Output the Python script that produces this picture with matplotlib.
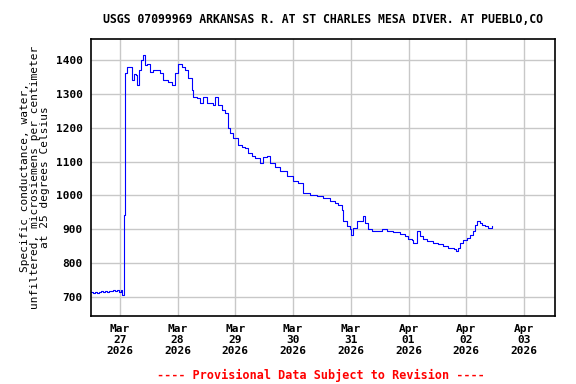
"""USGS specific conductance plot, Arkansas R. at St Charles Mesa diversion."""

import matplotlib
matplotlib.use("Agg")
import matplotlib.pyplot as plt
import numpy as np

# hours after 2026-03-27 00:00, and specific conductance (uS/cm)
hours = [
    -12.1, -11.2, -10.4, -9.6, -8.7, -7.9, -7.1, -6.2, -5.4, -4.6, -3.7, -2.9,
    -2.1, -1.2, -0.4, 0.4, 1.0, 1.5, 1.8, 2.1, 2.8, 4.2, 4.9, 5.8, 6.5, 7.2,
    8.0, 8.7, 9.7, 10.4, 11.1, 12.5, 13.9, 15.3, 16.6, 18.0, 20.1, 21.5, 22.9,
    24.3, 25.7, 27.0, 28.4, 29.8, 30.5, 31.9, 33.3, 34.7, 36.1, 37.4, 38.8,
    39.5, 40.9, 42.3, 43.7, 44.8, 45.8, 47.1, 49.2, 50.6, 52.0, 53.4, 54.8,
    56.2, 58.2, 59.6, 61.0, 62.4, 64.5, 66.6, 69.3, 72.1, 74.0, 76.3, 79.0,
    81.8, 84.6, 87.4, 89.4, 90.8, 92.2, 92.9, 94.3, 95.7, 96.0, 97.1, 98.5,
    99.8, 101.0, 101.9, 103.3, 104.7, 106.8, 108.9, 111.0, 113.7, 116.5,
    118.6, 119.9, 121.3, 122.0, 123.4, 124.8, 126.2, 127.6, 129.0, 130.3,
    132.4, 134.5, 136.6, 138.7, 139.7, 140.7, 141.4, 142.8, 144.2, 145.6,
    146.7, 147.7, 148.6, 149.8, 150.5, 151.8, 153.2, 154.6,
]
conductance = [
    713, 712, 715, 710, 713, 716, 714, 717, 715, 718, 716, 720,
    717, 721, 714, 719, 705, 704, 943, 1361, 1380, 1380, 1341, 1358, 1356, 1326,
    1370, 1400, 1415, 1385, 1390, 1365, 1370, 1370, 1361, 1341, 1336, 1326, 1361,
    1390, 1380, 1370, 1346, 1311, 1292, 1287, 1272, 1292, 1272, 1272, 1267,
    1292, 1267, 1253, 1243, 1198, 1184, 1169, 1149, 1144, 1139, 1125, 1115,
    1110, 1095, 1112, 1115, 1095, 1085, 1071, 1056, 1041, 1036, 1007, 1002,
    997, 992, 982, 977, 972, 958, 923, 908, 899, 884, 904, 923,
    923, 938, 918, 899, 894, 894, 899, 894, 891, 887,
    879, 871, 869, 860, 894, 879, 871, 864, 864, 860,
    857, 851, 844, 842, 834, 844, 860, 869, 874, 884,
    894, 913, 923, 918, 913, 910, 904, 910,
]

day_labels = ["Mar\n27\n2026", "Mar\n28\n2026", "Mar\n29\n2026", "Mar\n30\n2026",
              "Mar\n31\n2026", "Apr\n01\n2026", "Apr\n02\n2026", "Apr\n03\n2026"]
y_ticks = [700, 800, 900, 1000, 1100, 1200, 1300, 1400]

MONO = "DejaVu Sans Mono"


def main() -> None:
    t0 = np.datetime64("2026-03-27T00:00")
    times = t0 + (np.array(hours) * 60).astype("timedelta64[m]")

    fig = plt.figure(figsize=(5.76, 3.84), dpi=100)
    ax = fig.add_axes([0.158, 0.177, 0.806, 0.721])

    ax.plot(times, conductance, color="blue", linewidth=0.8, drawstyle="steps-post")

    day_ticks = t0 + np.arange(len(day_labels)) * np.timedelta64(1, "D")
    ax.set_xticks(day_ticks)
    ax.set_xticklabels(day_labels, fontfamily=MONO, fontweight="bold", fontsize=8,
                       linespacing=1.1)
    ax.set_xlim(np.datetime64("2026-03-26T12:00"), np.datetime64("2026-04-03T13:00"))

    ax.set_yticks(y_ticks)
    ax.set_yticklabels([str(v) for v in y_ticks], fontfamily=MONO,
                       fontweight="bold", fontsize=8)
    ax.set_ylim(643, 1462)

    ax.tick_params(length=0, pad=6)
    ax.grid(True, color="#c8c8c8", linewidth=1)
    ax.set_axisbelow(True)
    for spine in ax.spines.values():
        spine.set_linewidth(1.2)

    ax.set_ylabel("Specific conductance, water,\nunfiltered, microsiemens per centimeter\n"
                  "at 25 degrees Celsius", fontfamily=MONO, fontsize=8, linespacing=1.0)

    fig.text(0.56, 0.95, "USGS 07099969 ARKANSAS R. AT ST CHARLES MESA DIVER. AT PUEBLO,CO",
             ha="center", va="center", fontfamily=MONO, fontweight="bold", fontsize=8.3)
    fig.text(0.557, 0.023, "---- Provisional Data Subject to Revision ----",
             ha="center", va="center", fontfamily=MONO, fontweight="bold",
             fontsize=8.5, color="red")

    fig.savefig("out.png", dpi=100)


if __name__ == "__main__":
    main()
